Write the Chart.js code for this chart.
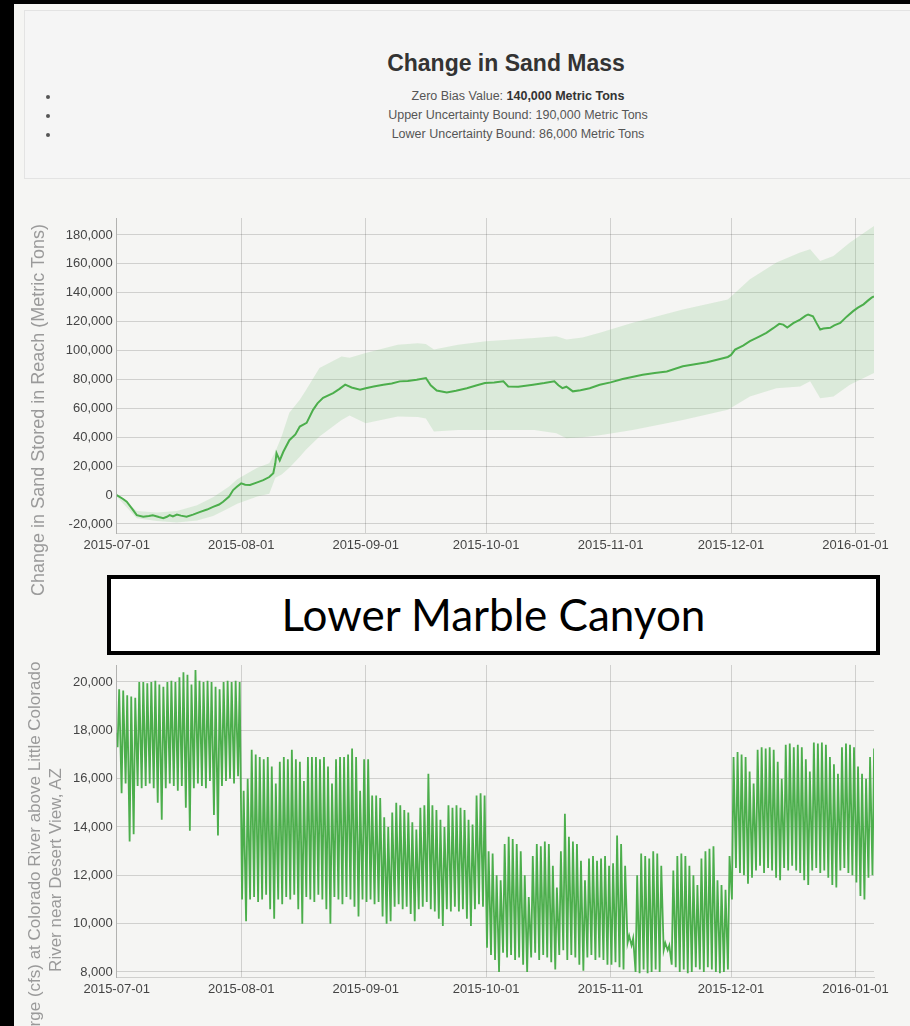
<!DOCTYPE html>
<html>
<head>
<meta charset="utf-8">
<script src="https://cdn.jsdelivr.net/npm/chart.js@4.4.1/dist/chart.umd.min.js"></script>
<style>
  html, body { margin: 0; padding: 0; }
  body { width: 910px; height: 1026px; overflow: hidden; position: relative; background: #f5f5f3; font-family: "Liberation Sans", Arial, sans-serif; }
  .black-left { position: absolute; left: 0; top: 0; width: 14px; height: 1026px; background: #000; z-index: 5; }
  .black-top { position: absolute; left: 0; top: 0; width: 910px; height: 4px; background: #000; z-index: 5; }
  #header { position: absolute; left: 24px; top: 10px; width: 990px; height: 167px; background: #f5f5f5; border: 1px solid #e3e3e3; }
  #title { position: absolute; left: 0; top: 49px; width: 1012px; text-align: center; font-weight: bold; font-size: 23px; line-height: 28px; color: #333; }
  #notes { position: absolute; left: 60px; top: 87px; width: 916px; margin: 0; padding: 0; list-style: disc outside; }
  #notes li { font-size: 12.5px; line-height: 19px; text-align: center; color: #555; }
  #notes b { color: #333; }
  canvas { position: absolute; left: 0; }
  #sandChart { top: 200px; }
  #flowChart { top: 650px; }
  .ytitle { position: absolute; transform: rotate(-90deg); transform-origin: center; text-align: center; color: #9a9a9a; white-space: nowrap; }
  #sandTitle { left: -152px; top: 399px; width: 380px; height: 22px; line-height: 22px; font-size: 18px; }
  #flowTitle { left: -235px; top: 849px; width: 560px; height: 42px; line-height: 21px; font-size: 17px; }
  #reach { position: absolute; left: 107px; top: 575px; width: 773px; height: 80px; box-sizing: border-box; border: 4px solid #000; background: #fff; text-align: center; font-family: Lato, "Open Sans", sans-serif; font-size: 44px; line-height: 70px; color: #000; z-index: 3; }
</style>
</head>
<body>
<div class="black-left"></div>
<div class="black-top"></div>
<div id="header"></div>
<div id="title">Change in Sand Mass</div>
<ul id="notes">
  <li>Zero Bias Value: <b>140,000 Metric Tons</b></li>
  <li>Upper Uncertainty Bound: 190,000 Metric Tons</li>
  <li>Lower Uncertainty Bound: 86,000 Metric Tons</li>
</ul>
<canvas id="sandChart" width="910" height="360"></canvas>
<canvas id="flowChart" width="910" height="376"></canvas>
<div class="ytitle" id="sandTitle">Change in Sand Stored in Reach (Metric Tons)</div>
<div class="ytitle" id="flowTitle">Discharge (cfs) at Colorado River above Little Colorado<br>River near Desert View, AZ</div>
<div id="reach">Lower Marble Canyon</div>

<script>
// days since 2015-07-01
const dateTickDays = [0, 31, 62, 92, 123, 153, 184];
const dateTickLabels = ["2015-07-01", "2015-08-01", "2015-09-01", "2015-10-01", "2015-11-01", "2015-12-01", "2016-01-01"];
const lastDay = 188.6;

const sandTicks = [-20000, 0, 20000, 40000, 60000, 80000, 100000, 120000, 140000, 160000, 180000];
const cfsTicks = [8000, 10000, 12000, 14000, 16000, 18000, 20000];

// change in sand mass (metric tons)
const sandDays = [0, 1.5, 2.5, 4, 5, 6.6, 8, 9, 10.5, 11.6, 12.5, 13.2, 14, 15, 16, 17.4, 19, 20.8, 22.5, 24,
  25.5, 26.5, 28, 29, 30, 31, 32, 33.2, 35, 36.5, 38, 39, 39.5, 39.8, 40.6, 41.5, 43, 44.5, 45.6, 47.3,
  48.9, 50, 51.4, 53.9, 55.5, 56.9, 58.5, 60.6, 62, 64, 66.4, 68.5, 70.5, 72.5, 74.7, 77, 78.2, 79.7, 82.2, 84.5,
  87.2, 89.5, 91.7, 94, 96.3, 97.5, 100, 103.7, 106.5, 109, 110, 111, 112, 113.6, 115.5, 117.8, 120.3, 123, 126, 131,
  134, 137, 141, 144, 147, 150, 152.2, 153, 154, 156, 157.7, 160, 161.8, 163.5, 165, 166, 167, 168.5, 170.2, 171.5,
  172.2, 173.4, 174.3, 175.2, 176, 177.7, 178.7, 180.2, 181.8, 183.4, 184.6, 186, 187, 188, 188.6];
const sandChange = [0, -2500, -4600, -10000, -13900, -15000, -14500, -14000, -15200, -16000, -15000, -13800, -14800, -13500, -14200, -15000, -13500, -11600, -10000, -8100,
  -6500, -4600, -1000, 3500, 6000, 8100, 7200, 7000, 8800, 10400, 12500, 15200, 22000, 29000, 24000, 30000, 38000, 42000, 47400, 50000,
  59000, 63500, 67300, 70600, 73500, 76400, 74500, 73000, 74000, 75200, 76400, 77300, 78700, 79000, 79900, 81000, 76000, 72400, 71000, 72200,
  74000, 75800, 77600, 78000, 78700, 75200, 75000, 76400, 77500, 78700, 76000, 74000, 75000, 71800, 72500, 74000, 76400, 78000, 80300, 83300,
  84500, 85600, 89100, 90500, 91900, 94000, 95600, 97000, 100700, 103500, 106500, 109700, 112300, 115500, 118500, 118000, 116000, 119000, 121500, 124000,
  125000, 123800, 119000, 114600, 115300, 115800, 117500, 119200, 123500, 127300, 129700, 132000, 134400, 136600, 137500];

// uncertainty band (metric tons)
const bandDays = [0, 5, 10, 15, 20, 24, 28, 30, 35, 38, 39.5, 41, 43, 45.6, 47, 50.5, 56, 58, 62, 70,
  75, 77, 79, 85, 92, 104, 109.5, 112, 116, 120.3, 128.5, 141, 152.2, 157.7, 164.3, 170.2, 172.7, 175.2, 178.5, 182.6, 188.6];
const bandUpper = [1000, -11000, -12000, -11000, -7000, -1500, 6000, 11000, 19000, 22000, 30000, 40000, 57000, 66000, 72000, 88000, 96000, 95000, 98400, 104000,
  105000, 104500, 100700, 104000, 106500, 108800, 110000, 107600, 109000, 112300, 119200, 128500, 135400, 149300, 160900, 167800, 170100, 162000, 165500, 174800, 186300];
const bandLower = [-1000, -16000, -18000, -19000, -17500, -14500, -9000, -6000, -1000, 1000, 12000, 14000, 19000, 26600, 31000, 40500, 52000, 55000, 49800, 54400,
  54000, 53000, 44000, 45000, 45100, 45100, 42800, 39400, 40000, 41500, 45100, 52000, 59000, 68200, 74000, 75200, 78700, 67100, 68200, 76400, 84500];

// discharge (cfs): daily low and daily peak, one value per day from 2015-07-01
const firstCfs = 17900;
const dailyLowCfs = [
  17300, 15400, 15800, 13400, 13700, 15700, 15600, 15700, 15800, 15600, 15000, 14300, 15600, 15800, 15700, 15500, 15700, 14800, 13850, 15600, 15800, 15700, 15600, 15900, 14500, 13650, 15700, 15900, 16000, 15800, 16100,
  11000, 10100, 11000, 11100, 10900, 11000, 11200, 10600, 10200, 11000, 10800, 11100, 11000, 11200, 10600, 10000, 11100, 11000, 10900, 11200, 11000, 10600, 10000, 11100, 11000, 10800, 11100, 11000, 10700, 10300, 11000,
  10900, 11000, 10800, 10900, 10300, 10000, 10100, 10700, 10800, 10600, 10700, 10400, 10100, 10600, 10700, 10900, 10600, 10500, 10200, 9900, 10600, 10500, 10700, 10500, 10600, 10200, 9900, 10600, 10800, 10700,
  9000, 8700, 8500, 8000, 8800, 8600, 8700, 8500, 8600, 8300, 8000, 8600, 8800, 8500, 8700, 8600, 8400, 8100, 8700, 8900, 8500, 8700, 8600, 8300, 8050, 8600, 8700, 8500, 8600, 8500, 8300,
  8300, 8400, 8200, 8100, 9200, 9100, 8000, 7950, 8100, 7950, 8000, 8100, 8000, 8900, 8900, 8300, 8200, 8000, 8100, 7950, 8000, 8200, 8100, 8000, 8200, 8100, 8000, 7950, 8000, 8100,
  11000, 12300, 12100, 12000, 11650, 11900, 12200, 12400, 12100, 12300, 12200, 11900, 11800, 12300, 12200, 12400, 12200, 12100, 11800, 11600, 12200, 12300, 12100, 12200, 11900, 11600, 11500, 12200, 12300, 12100, 12000,
  11700, 11150, 11000, 11900, 12000];
const dailyPeakCfs = [
  19700, 19650, 19450, 19400, 19350, 20000, 20000, 19950, 20000, 20050, 19900, 19800, 20000, 20050, 20000, 20200, 20400, 20300, 19900, 20500, 20050, 20000, 20050, 20000, 19800, 19700, 20000, 20050, 20000, 20050, 20000,
  15500, 16000, 17200, 17000, 16900, 16800, 16900, 16500, 15800, 16700, 16900, 16800, 17200, 16800, 16700, 15900, 16900, 16900, 16900, 16800, 16900, 16500, 15800, 16800, 16900, 16900, 17000, 17250, 16900, 15500, 16800,
  16800, 15300, 15300, 15200, 14400, 14000, 14600, 15000, 14900, 14700, 14600, 14200, 13900, 14800, 14900, 16200, 14900, 14700, 14300, 14000, 14900, 14800, 14900, 14800, 14700, 14300, 14100, 15300, 15400, 15300,
  13000, 12900, 12000, 11800, 13300, 13600, 13500, 13300, 13000, 12000, 11100, 12800, 13300, 13200, 13400, 13300, 12400, 11500, 13000, 14550, 13600, 13400, 13300, 12600, 11800, 12700, 12800, 12600, 12700, 12800, 12400,
  12500, 13650, 13300, 12400, 9500, 9400, 12000, 12900, 12800, 12700, 13000, 12900, 12400, 9200, 9100, 12200, 12800, 12900, 12800, 12400, 12000, 11600, 12700, 13000, 13100, 13200, 11800, 11600, 11400, 12800,
  16900, 17100, 17000, 16900, 16300, 15800, 17200, 17300, 17250, 17300, 17200, 16700, 16000, 17400, 17450, 17300, 17400, 17300, 16800, 16300, 17500, 17450, 17500, 17400, 16900, 16600, 16200, 17300, 17450, 17400, 17300,
  16500, 16200, 16000, 16900, 17250];

const gridColor = "rgba(0,0,0,0.15)";
const green = "#4cae4c";

Chart.defaults.font.family = '"Liberation Sans", Arial, sans-serif';
Chart.defaults.font.size = 13;
Chart.defaults.color = "#444";

const toPoints = (xs, ys) => xs.map((x, i) => ({ x, y: ys[i] }));

const dischargePoints = [{ x: 0, y: firstCfs }];
dailyPeakCfs.forEach((peak, d) => {
  dischargePoints.push({ x: d + 0.22, y: dailyLowCfs[d] });
  dischargePoints.push({ x: d + 0.62, y: peak });
});

const dateAxis = (height) => ({
  type: "linear",
  min: 0,
  max: lastDay,
  afterBuildTicks: (scale) => {
    scale.ticks = dateTickDays.map((v) => ({ value: v }));
  },
  afterFit: (scale) => {
    scale.height = height;
  },
  ticks: {
    callback: (v) => dateTickLabels[dateTickDays.indexOf(v)],
    padding: 5,
    maxRotation: 0,
    autoSkip: false,
  },
  grid: { color: gridColor, drawTicks: false },
  border: { color: gridColor },
});

const valueAxis = (min, max, tickValues) => ({
  type: "linear",
  min,
  max,
  afterBuildTicks: (scale) => {
    scale.ticks = tickValues.map((v) => ({ value: v }));
  },
  afterFit: (scale) => {
    scale.width = 116.7;
  },
  ticks: {
    callback: (v) => v.toLocaleString("en-US"),
    padding: 4,
  },
  grid: { color: gridColor, drawTicks: false },
  border: { color: gridColor },
});

const baseOptions = {
  responsive: false,
  animation: false,
  plugins: { legend: { display: false }, tooltip: { enabled: false } },
  elements: { point: { radius: 0 } },
};

new Chart(document.querySelector("#sandChart"), {
  type: "line",
  data: {
    datasets: [
      {
        data: toPoints(sandDays, sandChange),
        borderColor: green,
        borderWidth: 2,
        fill: false,
      },
      {
        data: toPoints(bandDays, bandLower),
        borderWidth: 0,
        borderColor: "rgba(0,0,0,0)",
        fill: false,
      },
      {
        data: toPoints(bandDays, bandUpper),
        borderWidth: 0,
        borderColor: "rgba(0,0,0,0)",
        backgroundColor: "rgba(92,184,92,0.17)",
        fill: 1,
      },
    ],
  },
  options: {
    ...baseOptions,
    layout: { padding: { left: 0, top: 18, right: 36, bottom: 0 } },
    scales: {
      x: dateAxis(27),
      y: valueAxis(-26230, 191760, sandTicks),
    },
  },
});

new Chart(document.querySelector("#flowChart"), {
  type: "line",
  data: {
    datasets: [
      {
        data: dischargePoints,
        borderColor: green,
        borderWidth: 1.8,
        fill: false,
      },
    ],
  },
  options: {
    ...baseOptions,
    layout: { padding: { left: 0, top: 15, right: 36, bottom: 0 } },
    scales: {
      x: dateAxis(49),
      y: valueAxis(7793, 20703, cfsTicks),
    },
  },
});
</script>
</body>
</html>
